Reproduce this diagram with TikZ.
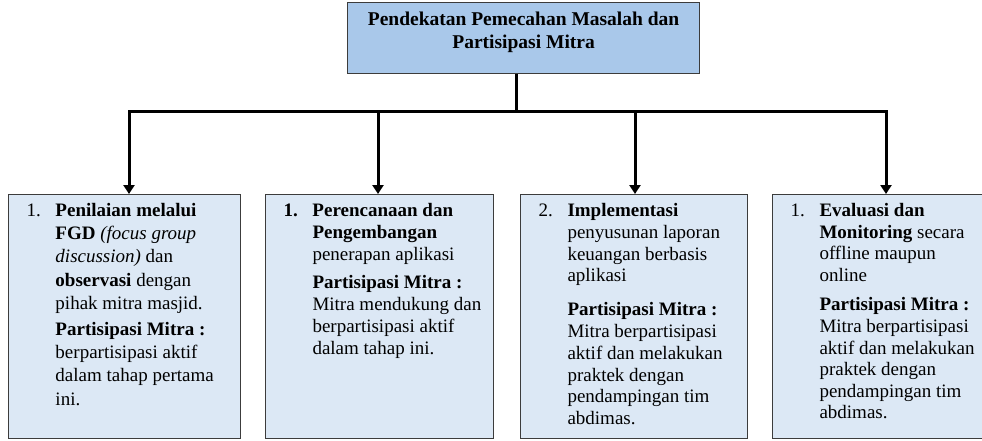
\documentclass[tikz,border=0pt]{standalone}
\usepackage{fontspec}
\setmainfont{Liberation Serif}
\usepackage{tikz}
\usetikzlibrary{arrows.meta,positioning}
\definecolor{headblue}{HTML}{A9C8EA}
\definecolor{boxblue}{HTML}{DCE8F5}
\definecolor{edgegray}{HTML}{3C3C3C}
\tikzstyle{headbox} = [rectangle, draw=edgegray, line width=1.2pt, fill=headblue, inner sep=0pt, minimum width=352pt, minimum height=71pt, anchor=north west]
\tikzstyle{stepbox} = [rectangle, draw=edgegray, line width=1pt, fill=boxblue, inner sep=0pt, minimum height=244pt, anchor=north west]
\tikzstyle{trunk}   = [line width=3pt]
\tikzstyle{arrow}   = [line width=3pt, -{Triangle[width=11pt,length=9pt]}]
% text inside the boxes
\newcommand{\stepbody}[3]{\hspace*{18pt}\parbox[c][244pt][t]{#1}{\fontsize{19}{#2}\selectfont\raggedright\leftskip=29pt\relax #3}}
\newcommand{\stepnum}[1]{\noindent\llap{\makebox[29pt][l]{#1}}\rule{0pt}{22pt}}

\begin{document}
\begin{tikzpicture}[x=1pt, y=-1pt]
            \useasboundingbox (0,0) rectangle (982,440);
            %Create title node
            \node (top) [headbox] at (347,2) {\parbox[c][71pt][t]{340pt}{\centering\fontsize{19.5}{23}\selectfont\bfseries
                \rule{0pt}{23pt}Pendekatan Pemecahan Masalah dan\\ Partisipasi Mitra}};
            %Create nodes for the four steps
            \node (b1) [stepbox, minimum width=232pt] at (8,194) {\stepbody{214pt}{23.2}{%
                \stepnum{1.}\textbf{Penilaian melalui}\\
                \textbf{FGD} \textit{(focus group}\\
                \textit{discussion)} dan\\
                \textbf{observasi} dengan\\
                pihak mitra masjid.\par\vspace{3pt}
                \textbf{Partisipasi Mitra :}\\
                berpartisipasi aktif\\
                dalam tahap pertama\\
                ini.}};
            \node (b2) [stepbox, minimum width=228pt, right=24pt of b1] {\stepbody{210pt}{22}{%
                \stepnum{\textbf{1.}}\textbf{Perencanaan dan}\\
                \textbf{Pengembangan}\\
                penerapan aplikasi\par\vspace{6pt}
                \textbf{Partisipasi Mitra :}\\
                Mitra mendukung dan\\
                berpartisipasi aktif\\
                dalam tahap ini.}};
            \node (b3) [stepbox, minimum width=227pt, right=26pt of b2] {\stepbody{209pt}{21.8}{%
                \stepnum{2.}\textbf{Implementasi}\\
                penyusunan laporan\\
                keuangan berbasis\\
                aplikasi\par\vspace{12pt}
                \textbf{Partisipasi Mitra :}\\
                Mitra berpartisipasi\\
                aktif dan melakukan\\
                praktek dengan\\
                pendampingan tim\\
                abdimas.}};
            \node (b4) [stepbox, minimum width=216pt, right=24pt of b3] {\stepbody{198pt}{21.6}{%
                \stepnum{1.}\textbf{Evaluasi dan}\\
                \textbf{Monitoring} secara\\
                offline maupun\\
                online\par\vspace{8pt}
                \textbf{Partisipasi Mitra :}\\
                Mitra berpartisipasi\\
                aktif dan melakukan\\
                praktek dengan\\
                pendampingan tim\\
                abdimas.}};
            %Branch points
            \coordinate (hub) at (516,111);
            \coordinate (h1)  at (129,111);
            \coordinate (h2)  at (378,111);
            \coordinate (h3)  at (635,111);
            \coordinate (h4)  at (886,111);
            %Connect title to steps
            \draw [trunk] (top.south -| hub) -- (hub);
            \draw [arrow] (h4) -- (h1) -- (h1 |- b1.north);
            \draw [arrow] (h1) -- (h4) -- (h4 |- b4.north);
            \draw [arrow] (h2) -- (h2 |- b2.north);
            \draw [arrow] (h3) -- (h3 |- b3.north);
        \end{tikzpicture}
\end{document}
